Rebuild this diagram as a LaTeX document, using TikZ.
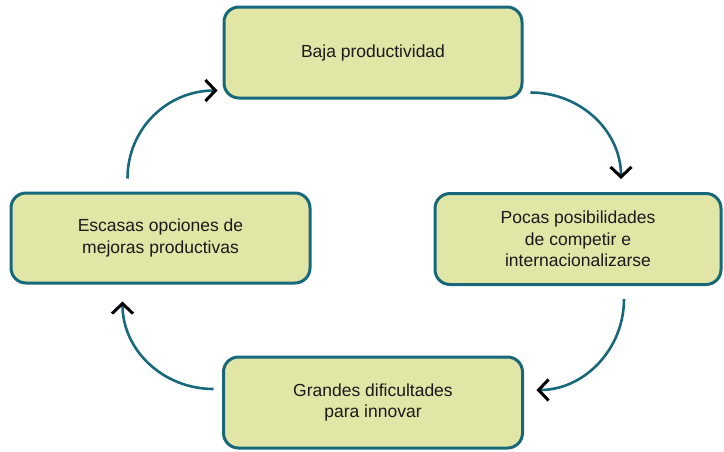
\documentclass[tikz,border=0pt]{standalone}
\usepackage{fontspec}
\setmainfont{Liberation Sans}
\usetikzlibrary{arrows.meta}
\definecolor{boxline}{HTML}{17687A}
\definecolor{boxfill}{HTML}{E1E5A6}
\definecolor{txt}{HTML}{1A1A1A}
\tikzset{
  stepbox/.style={draw=boxline, fill=boxfill, line width=3pt, rounded corners=15pt,
    align=center, text=txt, font=\fontsize{17.5}{21.5}\selectfont, inner sep=0pt},
  cyc/.style={draw=boxline, line width=2.6pt,
    -{Straight Barb[color=black, length=10pt, width=21pt, line width=3pt]}}
}
\begin{document}
\begin{tikzpicture}[x=1pt, y=-1pt]
\useasboundingbox (0,0) rectangle (724,451);
\node[stepbox, minimum width=298pt, minimum height=91pt] (top) at (373,52.5) {Baja productividad};
\node[stepbox, minimum width=286pt, minimum height=91pt] (rgt) at (578,239) {Pocas posibilidades\\de competir e\\internacionalizarse};
\node[stepbox, minimum width=299pt, minimum height=90pt] (lft) at (160.5,238) {Escasas opciones de\\mejoras productivas};
\node[stepbox, minimum width=299pt, minimum height=91pt] (bot) at (373,402.5) {Grandes dificultades\\para innovar};
% arrows
\draw[cyc] ([shift={(7,-7)}]top.south east) .. controls +(50,0) and +(0,-48) .. ([shift={(43,-13)}]rgt.north);
\draw[cyc] ([shift={(46,13)}]rgt.south) .. controls +(0,50) and +(48,0) .. ([shift={(12.5,-12.5)}]bot.east);
\draw[cyc] ([shift={(-8.5,-13.5)}]bot.west) .. controls +(-50,0) and +(0,49) .. ([shift={(-38,17)}]lft.south);
\draw[cyc] ([shift={(-33,-13)}]lft.north) .. controls +(0,-50) and +(-50,0) .. ([shift={(-5,38)}]top.west);
\end{tikzpicture}
\end{document}
